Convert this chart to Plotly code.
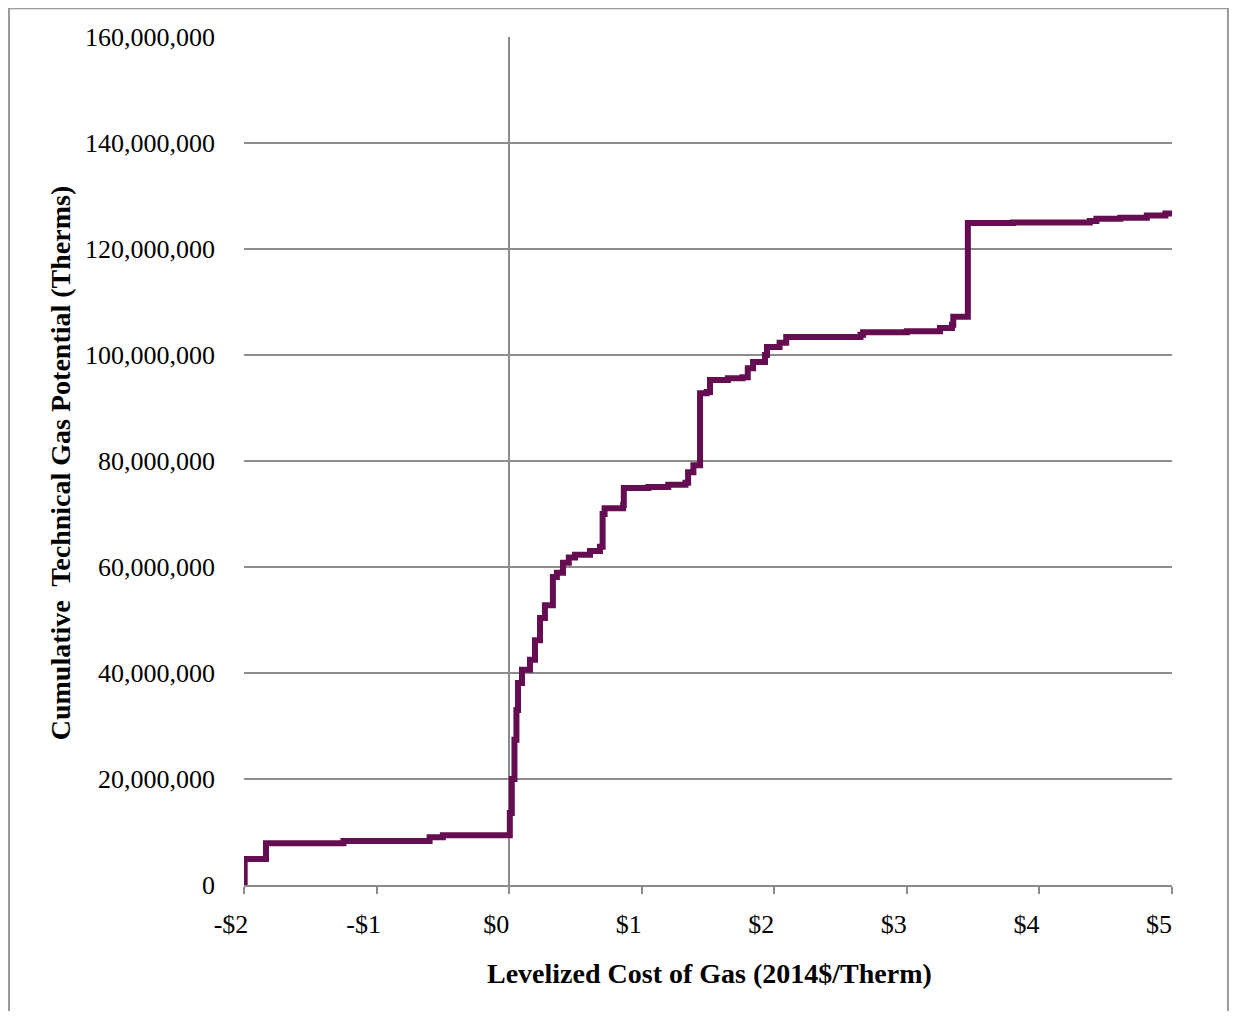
import plotly.graph_objects as go

# Levelized cost ($/therm) and cumulative technical gas potential (therms)
cost = [-2.0, -1.995, -1.834, -1.25, -0.60, -0.50, 0.0,
        0.005, 0.02, 0.04, 0.055, 0.067, 0.097, 0.157, 0.195, 0.233, 0.27,
        0.33, 0.36, 0.406, 0.45, 0.497, 0.61, 0.685, 0.705, 0.72, 0.86,
        0.865, 1.05, 1.2, 1.33, 1.35, 1.39, 1.44, 1.49, 1.515, 1.65, 1.76,
        1.80, 1.84, 1.93, 1.945, 2.04, 2.09, 2.65, 2.67, 3.0, 3.25, 3.34,
        3.35, 3.46, 3.80, 4.38, 4.43, 4.61, 4.81, 4.95, 5.0]
cum_mtherms = [0, 4.9, 7.9, 8.3, 9.0, 9.4, 9.4,
               13.6, 20.0, 27.4, 33.0, 38.1, 40.6, 42.5, 46.2, 50.4, 52.8,
               58.1, 58.9, 60.8, 61.8, 62.3, 63.0, 63.8, 70.0, 71.1, 71.7,
               74.9, 75.1, 75.5, 75.9, 77.9, 79.2, 92.8, 93.0, 95.3, 95.6, 95.8,
               97.5, 98.7, 100.0, 101.5, 102.3, 103.4, 103.8, 104.3, 104.5, 105.1, 105.7,
               107.2, 124.9, 125.0, 125.3, 125.7, 125.9, 126.3, 126.7, 126.7]
cum_therms = [v * 1e6 for v in cum_mtherms]

x_tickvals = [-2, -1, 0, 1, 2, 3, 4, 5]
x_ticktext = ["-$2", "-$1", "$0", "$1", "$2", "$3", "$4", "$5"]
y_tickvals = [0, 20e6, 40e6, 60e6, 80e6, 100e6, 120e6, 140e6, 160e6]

x_title = "Levelized Cost of Gas (2014$/Therm)"
y_title = "Cumulative  Technical Gas Potential (Therms)"

FONT = "Liberation Serif"
GRID = "#8c8c8c"

fig = go.Figure()
fig.add_trace(go.Scatter(
    x=cost, y=cum_therms, mode="lines",
    line=dict(color="#650D51", width=6, shape="hv"),
    cliponaxis=False, showlegend=False,
))

fig.update_layout(
    width=1228, height=1003,
    margin=dict(l=236, r=64, t=29, b=126),
    paper_bgcolor="white", plot_bgcolor="white",
    font=dict(family=FONT, size=26, color="#000000"),
    xaxis=dict(
        range=[-2, 5], tickvals=x_tickvals, ticktext=x_ticktext,
        showgrid=False, zeroline=True, zerolinecolor=GRID, zerolinewidth=2,
        showline=True, linecolor=GRID, linewidth=2,
        ticks="outside", ticklen=7, tickcolor=GRID, tickwidth=2,
        ticklabelshift=-13, ticklabelstandoff=8,
        tickfont=dict(family=FONT, size=26),
    ),
    yaxis=dict(
        range=[0, 160e6], tickvals=y_tickvals, tickformat=",d",
        showgrid=True, gridcolor=GRID, gridwidth=2, zeroline=False,
        showline=False, ticks="", ticklabelstandoff=28,
        tickfont=dict(family=FONT, size=26),
    ),
    annotations=[
        dict(text="<b>" + x_title + "</b>", xref="paper", yref="paper",
             x=0.502, y=-0.1038, xanchor="center", yanchor="middle",
             showarrow=False, font=dict(family=FONT, size=28)),
        dict(text="<b>" + y_title + "</b>", xref="paper", yref="paper",
             x=-0.198, y=0.4976, xanchor="center", yanchor="middle",
             textangle=-90, showarrow=False, font=dict(family=FONT, size=28)),
    ],
    shapes=[
        dict(type="rect", xref="paper", yref="paper",
             x0=-0.2532, x1=1.0603, y0=-0.25, y1=1.034,
             line=dict(color="#9a9a9a", width=2), layer="below"),
    ],
)

fig.write_html("out.html")
